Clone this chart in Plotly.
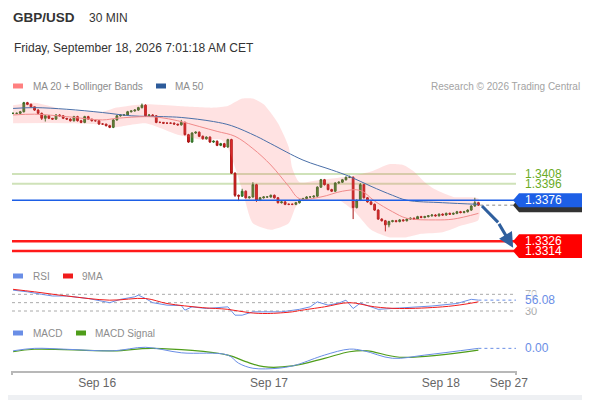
import plotly.graph_objects as go

# ---- candles (30 min, Sep 15 12:00 -> Sep 18 05:00) ----
first_open = 1.3482
closes = [
    1.3482, 1.3482, 1.3484, 1.3495, 1.3493, 1.3490, 1.3486, 1.3482, 1.3476, 1.3479,
    1.3476, 1.3475, 1.3480, 1.3479, 1.3476, 1.3475, 1.3473, 1.3478, 1.3473, 1.3471,
    1.3478, 1.3475, 1.3473, 1.3473, 1.3469, 1.3469, 1.3467, 1.3465, 1.3474, 1.3479,
    1.3480, 1.3480, 1.3484, 1.3485, 1.3486, 1.3489, 1.3492, 1.3479, 1.3480, 1.3479,
    1.3471, 1.3471, 1.3470, 1.3470, 1.3470, 1.3469, 1.3468, 1.3471, 1.3456, 1.3447,
    1.3458, 1.3459, 1.3454, 1.3451, 1.3453, 1.3447, 1.3448, 1.3443, 1.3445, 1.3441,
    1.3450, 1.3409, 1.3382, 1.3381, 1.3387, 1.3379, 1.3380, 1.3395, 1.3376, 1.3379,
    1.3380, 1.3380, 1.3382, 1.3379, 1.3373, 1.3374, 1.3371, 1.3371, 1.3371, 1.3373,
    1.3376, 1.3378, 1.3380, 1.3380, 1.3381, 1.3392, 1.3401, 1.3395, 1.3389, 1.3387,
    1.3397, 1.3398, 1.3401, 1.3404, 1.3404, 1.3367, 1.3376, 1.3395, 1.3379, 1.3374,
    1.3371, 1.3364, 1.3353, 1.3351, 1.3346, 1.3350, 1.3351, 1.3350, 1.3352, 1.3351,
    1.3353, 1.3354, 1.3353, 1.3356, 1.3355, 1.3356, 1.3357, 1.3358, 1.3357, 1.3359,
    1.3358, 1.3360, 1.3359, 1.3360, 1.3362, 1.3361, 1.3362, 1.3364, 1.3369, 1.3373,
    1.3370,
]
# wick lengths beyond the body, in pips
wick_up = [
    1, 1, 1, 1, 1, 1, 0, 1, 1, 1,
    1, 0, 1, 1, 1, 0, 1, 1, 1, 1,
    1, 1, 0, 1, 1, 1, 0, 1, 1, 1,
    1, 1, 1, 0, 1, 1, 2, 1, 1, 1,
    1, 1, 0, 1, 1, 1, 0, 3, 1, 1,
    1, 1, 1, 1, 1, 1, 1, 1, 1, 1,
    1, 1, 1, 1, 3, 1, 1, 3, 1, 1,
    1, 1, 1, 1, 1, 1, 1, 1, 1, 1,
    1, 1, 1, 1, 1, 1, 1, 1, 1, 1,
    1, 1, 1, 1, 2, 1, 1, 2, 1, 1,
    1, 1, 1, 1, 1, 1, 1, 1, 1, 1,
    1, 1, 1, 1, 1, 1, 1, 1, 1, 1,
    1, 1, 1, 1, 1, 1, 1, 1, 1, 6,
    1,
]
wick_down = [
    1, 1, 1, 1, 1, 1, 1, 1, 2, 4,
    1, 1, 1, 1, 1, 1, 1, 1, 1, 1,
    1, 1, 1, 1, 1, 1, 1, 1, 1, 1,
    1, 1, 1, 1, 1, 1, 1, 1, 1, 1,
    1, 1, 1, 1, 1, 1, 1, 1, 1, 1,
    1, 1, 1, 1, 1, 1, 1, 1, 1, 1,
    1, 1, 2, 6, 1, 1, 1, 1, 2, 1,
    1, 1, 1, 1, 1, 1, 1, 1, 1, 1,
    1, 1, 1, 1, 1, 1, 1, 1, 1, 1,
    1, 1, 1, 1, 1, 14, 1, 1, 1, 1,
    1, 1, 1, 1, 8, 3, 1, 1, 1, 1,
    1, 1, 1, 1, 1, 1, 1, 1, 1, 1,
    1, 1, 1, 1, 1, 1, 1, 1, 1, 1,
    1,
]

# ---- moving averages / Bollinger, read at sampled candles ----
ma50_idx = [0, 6, 15, 25, 33, 42, 47, 56, 61, 68, 72, 81, 89, 94, 100, 106, 110, 120, 130]
ma50_val = [1.3488, 1.3489, 1.3487, 1.3483, 1.3479, 1.3478, 1.3477, 1.3472, 1.3467, 1.3454,
            1.3445, 1.3425, 1.3413, 1.3405, 1.3393, 1.3382, 1.3376, 1.3373, 1.3371]
ma20_idx = [0, 6, 15, 25, 29, 37, 41, 46, 52, 57, 62, 67, 72, 77, 80, 86, 92, 97, 101,
            106, 110, 118, 123, 130]
ma20_val = [1.3480, 1.3481, 1.3478, 1.3474, 1.3476, 1.3478, 1.3477, 1.3473, 1.3466, 1.3460,
            1.3454, 1.3439, 1.3419, 1.3393, 1.3378, 1.3380, 1.3387, 1.3388, 1.3375, 1.3362,
            1.3354, 1.3352, 1.3353, 1.3360]
bb_up_idx = [0, 6, 15, 25, 29, 37, 46, 56, 60, 64, 67, 70, 74, 77, 78, 80, 86, 95, 100,
             105, 109, 112, 115, 118, 123, 130]
bb_up_val = [1.3492, 1.3495, 1.3486, 1.3484, 1.3489, 1.3493, 1.3491, 1.3489, 1.3491, 1.3500,
             1.3500, 1.3493, 1.3470, 1.3441, 1.3415, 1.3398, 1.3401, 1.3406, 1.3411, 1.3420,
             1.3419, 1.3411, 1.3398, 1.3389, 1.3380, 1.3378]
bb_lo_idx = [0, 15, 25, 28, 37, 46, 53, 58, 60, 64, 67, 72, 77, 79, 81, 86, 91, 95, 100,
             105, 110, 114, 120, 125, 130]
bb_lo_val = [1.3470, 1.3470, 1.3468, 1.3465, 1.3470, 1.3456, 1.3450, 1.3450, 1.3440, 1.3389,
             1.3348, 1.3340, 1.3348, 1.3368, 1.3376, 1.3376, 1.3376, 1.3364, 1.3340, 1.3331,
             1.3331, 1.3335, 1.3337, 1.3345, 1.3352]

# ---- RSI ----
rsi_idx = [0, 4, 8, 11, 15, 21, 27, 30, 34, 35, 37, 39, 43, 47, 48, 50, 54, 60, 62, 64,
           67, 75, 80, 83, 85, 88, 91, 93, 95, 97, 102, 108, 117, 124, 128, 130]
rsi_val = [80, 76, 70, 66, 66, 60, 50, 58, 64, 68, 60, 50, 44, 43, 32, 40, 36, 40, 20, 20,
           28, 28, 34, 40, 52, 44, 49, 56, 36, 49, 34, 37, 42, 48, 58, 56.08]
rsi_ma_idx = [0, 6, 15, 27, 37, 43, 53, 60, 66, 71, 78, 80, 87, 94, 101, 108, 120, 126, 130]
rsi_ma_val = [82, 76, 66, 56, 60, 48, 38, 34, 26, 24, 28, 31, 40, 50, 40, 36, 40, 46, 52]
rsi_levels = [70, 50, 30]

# ---- MACD ----
macd_idx = [0, 6, 15, 28, 37, 47, 60, 63, 67, 74, 78, 80, 87, 94, 98, 106, 115, 130]
macd_val = [-0.00018, -0.00002, -0.00008, -0.00018, 0.00005, -0.00031, -0.00046, -0.00099,
            -0.00132, -0.00132, -0.00117, -0.00104, -0.00046, -0.00007, -0.00018, -0.00067,
            -0.00046, -0.00002]
signal_idx = [0, 6, 28, 39, 60, 65, 70, 78, 87, 94, 99, 108, 130]
signal_val = [-0.00024, -0.00008, -0.00018, -0.00002, -0.00046, -0.00089, -0.00122, -0.00117,
              -0.00067, -0.00024, -0.00018, -0.00060, -0.00013]

# ---- key levels ----
resistances = [1.3408, 1.3396]
pivot = 1.3376
supports = [1.3326, 1.3314]
target_path_x = [131, 135.5, 139.7]
target_path_y = [1.3369, 1.3349, 1.3318]

tick_idx = [23.5, 71.5, 119.5, 138.5]
tick_text = ["Sep 16", "Sep 17", "Sep 18", "Sep 27"]

# ---- geometry (page body has an 8px margin, so the figure starts at 8,8) ----
OFF = 8
W, H = 590 - OFF, 400 - OFF
L, R, T, B = 12 - OFF, 74, 90 - OFF, 29
PW, PH = W - L - R, H - T - B
X_END = 140.5
PRICE_RANGE = [1.33048, 1.35105]
PX_PRICE = (PRICE_RANGE[1] - PRICE_RANGE[0]) / (0.6 * PH)


def px(x):
    # screen pixel -> paper x
    return (x - 12) / PW


def py(y):
    # screen pixel -> paper y
    return (371 - y) / PH


FONT = "Liberation Sans, Arial, sans-serif"
GREEN_CANDLE, RED_CANDLE = "#3b8f2c", "#e01b1b"
MA20_C, MA50_C = "#f08a8a", "#4a6fa8"
RSI_C, RSI_MA_C = "#6a8ee6", "#f01c1c"
MACD_C, SIG_C = "#6a8ee6", "#4f9d1a"
LVL_GREEN, LVL_BLUE, LVL_RED = "#cfe2b9", "#1d5fe6", "#ff1a1a"

n = len(closes)
idx = list(range(n))
opens = [first_open] + closes[:-1]
highs = [max(o, c) + w * 0.0001 for o, c, w in zip(opens, closes, wick_up)]
lows = [min(o, c) - w * 0.0001 for o, c, w in zip(opens, closes, wick_down)]

fig = go.Figure()

# Bollinger band
fig.add_trace(go.Scatter(
    x=bb_up_idx + bb_lo_idx[::-1], y=bb_up_val + bb_lo_val[::-1],
    fill="toself", fillcolor="rgba(255,110,110,0.2)", mode="lines",
    line=dict(width=0, shape="spline", smoothing=0.6), hoverinfo="skip", showlegend=False,
))
fig.add_trace(go.Scatter(x=ma50_idx, y=ma50_val, mode="lines",
                         line=dict(color=MA50_C, width=1, shape="spline"), showlegend=False))
fig.add_trace(go.Scatter(x=ma20_idx, y=ma20_val, mode="lines",
                         line=dict(color=MA20_C, width=1, shape="spline"), showlegend=False))
fig.add_trace(go.Candlestick(
    x=idx, open=opens, high=highs, low=lows, close=closes, whiskerwidth=0,
    increasing=dict(fillcolor=GREEN_CANDLE, line=dict(color="#2c6a21", width=1)),
    decreasing=dict(fillcolor=RED_CANDLE, line=dict(color="#a81414", width=1)),
    showlegend=False, hoverinfo="skip",
))
# last price guide
fig.add_trace(go.Scatter(x=[n - 0.5, X_END], y=[closes[-1]] * 2, mode="lines",
                         line=dict(color="#888", width=1, dash="dot"), showlegend=False))
# projected path
fig.add_trace(go.Scatter(x=target_path_x[:2], y=target_path_y[:2], mode="lines",
                         line=dict(color="#2f5f9e", width=3), showlegend=False))

# RSI
fig.add_trace(go.Scatter(x=rsi_idx, y=rsi_val, yaxis="y2", mode="lines",
                         line=dict(color=RSI_C, width=1), showlegend=False))
fig.add_trace(go.Scatter(x=rsi_ma_idx, y=rsi_ma_val, yaxis="y2", mode="lines",
                         line=dict(color=RSI_MA_C, width=1, shape="spline"), showlegend=False))
fig.add_trace(go.Scatter(x=[rsi_idx[-1], X_END], y=[rsi_val[-1]] * 2, yaxis="y2", mode="lines",
                         line=dict(color=RSI_C, width=1, dash="dot"), showlegend=False))

# MACD
fig.add_trace(go.Scatter(x=signal_idx, y=signal_val, yaxis="y3", mode="lines",
                         line=dict(color=SIG_C, width=1.2, shape="spline"), showlegend=False))
fig.add_trace(go.Scatter(x=macd_idx, y=macd_val, yaxis="y3", mode="lines",
                         line=dict(color=MACD_C, width=1, shape="spline"), showlegend=False))
fig.add_trace(go.Scatter(x=[macd_idx[-1], X_END], y=[macd_val[-1]] * 2, yaxis="y3", mode="lines",
                         line=dict(color=MACD_C, width=1, dash="dot"), showlegend=False))

shapes = []
for lv in resistances:
    shapes.append(dict(type="line", xref="paper", yref="y", x0=0, x1=1, y0=lv, y1=lv,
                       line=dict(color=LVL_GREEN, width=2), layer="below"))
shapes.append(dict(type="line", xref="paper", yref="y", x0=0, x1=1, y0=pivot, y1=pivot,
                   line=dict(color=LVL_BLUE, width=1.3)))
for lv in supports:
    shapes.append(dict(type="line", xref="paper", yref="y", x0=0, x1=1, y0=lv, y1=lv,
                       line=dict(color=LVL_RED, width=2.5)))
for lv in rsi_levels:
    shapes.append(dict(type="line", xref="paper", yref="y2", x0=0, x1=1, y0=lv, y1=lv,
                       line=dict(color="#aaa", width=1, dash="dot"), layer="below"))
# axis end ticks
for xp in (0, 1):
    shapes.append(dict(type="line", xref="paper", yref="paper", x0=xp, x1=xp,
                       y0=py(371), y1=py(375), line=dict(color="#b8b8b8", width=2)))
# bottom strip of the card
shapes.append(dict(type="rect", xref="paper", yref="paper", x0=px(8), x1=px(590),
                   y0=py(400), y1=py(395), line=dict(width=0), fillcolor="#eef0f3"))

# legend swatches
for x0, yy, col in [(13, 86, "#ff8080"), (156, 86, "#2d5b9a"), (13, 276, RSI_C),
                    (63, 276, RSI_MA_C), (13, 333, MACD_C), (76, 333, SIG_C)]:
    shapes.append(dict(type="rect", xref="paper", yref="paper", x0=px(x0), x1=px(x0 + 10),
                       y0=py(yy + 2.5), y1=py(yy - 2.5), line=dict(width=0), fillcolor=col))

# right-hand price tags
half = 7 * PX_PRICE


def tag(price, color):
    a, b, c = px(513), px(519), px(588)
    path = (f"M {a} {price} L {b} {price + half} L {c} {price + half} "
            f"L {c} {price - half} L {b} {price - half} Z")
    return dict(type="path", xref="paper", yref="y", path=path,
                fillcolor=color, line=dict(width=0))


shapes.append(tag(closes[-1] - 0.00002, "#333333"))
shapes.append(tag(pivot, LVL_BLUE))
for lv in supports:
    shapes.append(tag(lv, "#ff0000"))

ann = []


def text(x, y, s, size=10, color="#888", xanchor="left", yref="paper", xref="paper", **kw):
    ann.append(dict(x=x, y=y, xref=xref, yref=yref, text=s, showarrow=False,
                    xanchor=xanchor, yanchor="middle",
                    font=dict(family=FONT, size=size, color=color), **kw))


text(px(11), py(18), "<b>GBP/USD</b>", size=13.5, color="#333")
text(px(87), py(18), "30 MIN", size=12, color="#333")
text(px(12), py(48), "Friday, September 18, 2026 7:01:18 AM CET", size=12, color="#333")
text(px(31), py(86), "MA 20 + Bollinger Bands", color="#8c8c8c")
text(px(173), py(86), "MA 50", color="#8c8c8c")
text(px(582), py(86), "Research © 2026 Trading Central", color="#a3a3a3", xanchor="right")
text(px(31), py(276), "RSI", color="#8c8c8c")
text(px(80), py(276), "9MA", color="#8c8c8c")
text(px(31), py(333), "MACD", color="#8c8c8c")
text(px(93), py(333), "MACD Signal", color="#8c8c8c")

for lv in resistances:
    text(px(523), lv, f"{lv:.4f}", size=12, color="#6aab1f", yref="y")
text(px(523), pivot, f"{pivot:.4f}", size=12, color="#fff", yref="y")
for lv in supports:
    text(px(523), lv, f"{lv:.4f}", size=12, color="#fff", yref="y")
text(px(523), 70, "70", size=11, color="#aaa", yref="y2")
text(px(523), 30, "30", size=11, color="#aaa", yref="y2")
text(px(523), rsi_val[-1], f"{rsi_val[-1]:.2f}", size=12, color=RSI_C, yref="y2",
     bgcolor="rgba(255,255,255,0.6)")
text(px(523), macd_val[-1], f"{abs(macd_val[-1]):.2f}", size=12, color=MACD_C, yref="y3")

# arrow head of the projected path
ann.append(dict(x=target_path_x[2], y=target_path_y[2], ax=target_path_x[1], ay=target_path_y[1],
                xref="x", yref="y", axref="x", ayref="y", showarrow=True, arrowhead=2,
                arrowsize=1, arrowwidth=3, arrowcolor="#2f5f9e", text=""))

hidden = dict(visible=False, showgrid=False, zeroline=False, fixedrange=True)
fig.update_layout(
    width=W, height=H,
    margin=dict(l=L, r=R, t=T, b=B),
    paper_bgcolor="white", plot_bgcolor="white",
    font=dict(family=FONT, color="#666"),
    hovermode=False, showlegend=False,
    xaxis=dict(range=[-0.3, X_END], anchor="y3", showgrid=False, zeroline=False,
               showline=True, linecolor="#b8b8b8", linewidth=2, ticks="",
               tickvals=tick_idx, ticktext=tick_text, tickfont=dict(size=12, color="#666"),
               rangeslider=dict(visible=False)),
    yaxis=dict(domain=[0.40, 1.0], range=PRICE_RANGE, **hidden),
    yaxis2=dict(domain=[0.1838, 0.3174], range=[10, 100], **hidden),
    yaxis3=dict(domain=[0.0, 0.11], range=[-0.0015, 0.00052], **hidden),
    shapes=shapes, annotations=ann,
)

fig.write_html("out.html")
